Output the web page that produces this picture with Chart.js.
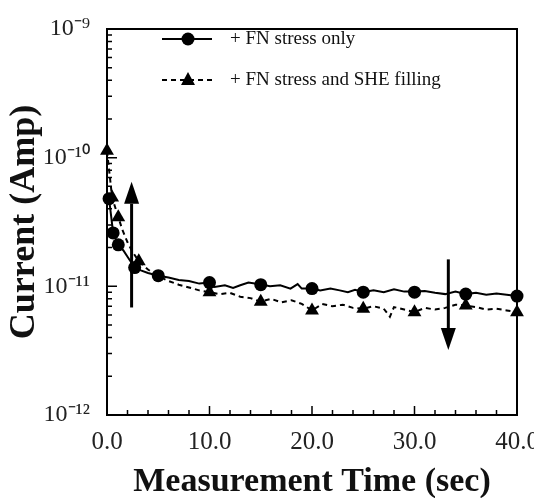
<!DOCTYPE html>
<html>
<head>
<meta charset="utf-8">
<script src="https://cdn.jsdelivr.net/npm/chart.js@4/dist/chart.umd.min.js"></script>
<style>
  html, body { margin: 0; padding: 0; background: #fff; overflow: hidden; }
  #wrap { width: 534px; height: 498px; overflow: hidden; }
</style>
</head>
<body>
<div id="wrap"><canvas id="chart" width="560" height="498"></canvas></div>
<script>
// line through the noisy "FN stress only" trace
const solidX = [0, 0.2, 0.6, 1.1, 1.6, 2.0, 2.7, 3.3, 4.0, 5, 6, 7, 8, 9, 10, 10.5, 11.5, 12.3, 13, 13.8, 14.9,
    15.9, 16.9, 17.9, 18.6, 19, 20, 20.8, 21.8, 22.7, 23.5, 24.2, 25, 26, 27, 28, 29, 30, 31, 32, 33, 34, 35, 36, 37, 38, 39, 40];
const solidY = [4.8e-11, 4.8e-11, 2.6e-11, 2.1e-11, 1.9e-11, 1.7e-11, 1.4e-11, 1.33e-11, 1.27e-11, 1.21e-11, 1.17e-11,
    1.12e-11, 1.1e-11, 1.05e-11, 1.07e-11, 9.9e-12, 1.02e-11, 9.7e-12, 1.02e-11, 1.07e-11, 1.04e-11, 1.0e-11, 1.02e-11,
    9.6e-12, 1.04e-11, 9.6e-12, 9.6e-12, 9.3e-12, 9.6e-12, 9.3e-12, 9.0e-12, 9.4e-12, 9.0e-12, 9.3e-12, 9.0e-12, 9.5e-12,
    9.1e-12, 9.1e-12, 9.2e-12, 8.9e-12, 8.7e-12, 9.1e-12, 8.7e-12, 8.9e-12, 8.6e-12, 8.8e-12, 8.6e-12, 8.4e-12];
const circleX = [0.2, 0.6, 1.1, 2.7, 5, 10, 15, 20, 25, 30, 35, 40];
const circleY = [4.8e-11, 2.6e-11, 2.1e-11, 1.4e-11, 1.21e-11, 1.07e-11, 1.03e-11, 9.6e-12, 9.0e-12, 9.0e-12, 8.7e-12, 8.4e-12];

// "FN stress and SHE filling" trace
const dashX = [0, 0.5, 1.1, 1.5, 2.0, 2.5, 3.1, 4, 5, 6, 7, 8, 9, 10, 11, 12, 13, 14, 15, 16, 17, 18, 19, 20,
    21, 22, 23, 24, 25, 26, 27, 27.6, 28, 29, 30, 31, 32, 33, 34, 35, 36, 37, 38, 39, 40];
const dashY = [1.13e-10, 4.9e-11, 3.45e-11, 2.75e-11, 2.2e-11, 1.85e-11, 1.57e-11, 1.35e-11, 1.2e-11, 1.1e-11, 1.03e-11,
    9.8e-12, 9.3e-12, 9.0e-12, 8.7e-12, 8.9e-12, 8.3e-12, 8.1e-12, 7.6e-12, 8.0e-12, 7.5e-12, 7.8e-12, 7.3e-12, 6.5e-12,
    7.3e-12, 7.0e-12, 7.2e-12, 6.8e-12, 6.7e-12, 7.0e-12, 6.7e-12, 5.8e-12, 6.9e-12, 6.6e-12, 6.3e-12, 6.8e-12, 6.6e-12,
    6.8e-12, 7.2e-12, 7.1e-12, 6.9e-12, 6.6e-12, 6.7e-12, 6.5e-12, 6.3e-12];
const triX = [0, 0.5, 1.1, 3.1, 10, 15, 20, 25, 30, 35, 40];
const triY = [1.13e-10, 4.9e-11, 3.45e-11, 1.57e-11, 9.0e-12, 7.6e-12, 6.5e-12, 6.7e-12, 6.3e-12, 7.1e-12, 6.3e-12];

// arrows: x position, tail value, head value
const arrowX = [2.4, 33.3];
const arrowFrom = [6.85e-12, 1.62e-11];
const arrowTo = [6.5e-11, 3.2e-12];

const seriesLabels = ['+ FN stress only', '+ FN stress and SHE filling'];
const xTicks = [0, 10, 20, 30, 40];

const SERIF = '"Liberation Serif", "Times New Roman", serif';
const SUP = { '-': '\u207B', '0': '\u2070', '1': '\u00B9', '2': '\u00B2', '9': '\u2079' };

function pts(xs, ys) {
    return xs.map((x, i) => ({ x: x, y: ys[i] }));
}

function superscript(n) {
    return String(n).split('').map(c => SUP[c] || c).join('');
}

const frameAndExtras = {
    id: 'frameAndExtras',
    afterDatasetsDraw(chart) {
        const ctx = chart.ctx;
        const a = chart.chartArea;
        const xs = chart.scales.x;
        const ys = chart.scales.y;
        ctx.save();
        ctx.strokeStyle = '#000';
        ctx.fillStyle = '#000';

        // inward ticks on y axis
        ctx.lineWidth = 1.5;
        ctx.beginPath();
        for (let e = -12; e <= -9; e++) {
            const yp = ys.getPixelForValue(Math.pow(10, e));
            ctx.moveTo(a.left, yp); ctx.lineTo(a.left + 10, yp);
            if (e < -9) {
                for (let m = 2; m <= 9; m++) {
                    const ym = ys.getPixelForValue(m * Math.pow(10, e));
                    ctx.moveTo(a.left, ym); ctx.lineTo(a.left + 5, ym);
                }
            }
        }
        // inward ticks on x axis
        for (let t = 0; t <= 40; t += 2) {
            const xp = xs.getPixelForValue(t);
            const len = t % 10 === 0 ? 9 : 5;
            ctx.moveTo(xp, a.bottom); ctx.lineTo(xp, a.bottom - len);
        }
        ctx.stroke();

        // frame
        ctx.lineWidth = 2;
        ctx.strokeRect(a.left, a.top, a.right - a.left, a.bottom - a.top);

        // arrows
        ctx.lineWidth = 3;
        arrowX.forEach((x, i) => {
            const xp = xs.getPixelForValue(x);
            const y0 = ys.getPixelForValue(arrowFrom[i]);
            const y1 = ys.getPixelForValue(arrowTo[i]);
            const dir = y1 < y0 ? 1 : -1;
            const head = 22;
            ctx.beginPath();
            ctx.moveTo(xp, y0);
            ctx.lineTo(xp, y1 + dir * head);
            ctx.stroke();
            ctx.beginPath();
            ctx.moveTo(xp, y1);
            ctx.lineTo(xp - 7.5, y1 + dir * head);
            ctx.lineTo(xp + 7.5, y1 + dir * head);
            ctx.closePath();
            ctx.fill();
        });

        // legend
        const rows = [
            { y: 39, dash: [], marker: 'circle', text: chart.data.datasets[0].label },
            { y: 80, dash: [5, 4], marker: 'triangle', text: chart.data.datasets[2].label }
        ];
        rows.forEach(r => {
            ctx.lineWidth = 2;
            ctx.setLineDash(r.dash);
            ctx.beginPath();
            ctx.moveTo(162, r.y); ctx.lineTo(212, r.y);
            ctx.stroke();
            ctx.setLineDash([]);
            ctx.beginPath();
            if (r.marker === 'circle') {
                ctx.arc(188, r.y, 6.5, 0, Math.PI * 2);
            } else {
                ctx.moveTo(188, r.y - 8);
                ctx.lineTo(195, r.y + 5);
                ctx.lineTo(181, r.y + 5);
                ctx.closePath();
            }
            ctx.fill();
            ctx.font = '19px ' + SERIF;
            ctx.textBaseline = 'middle';
            ctx.textAlign = 'left';
            ctx.fillStyle = '#111';
            ctx.fillText(r.text, 230, r.y);
            ctx.fillStyle = '#000';
        });
        ctx.restore();
    }
};

const ctx = document.getElementById('chart').getContext('2d');
new Chart(ctx, {
    type: 'line',
    data: {
        datasets: [
            {
                label: seriesLabels[0],
                data: pts(solidX, solidY),
                borderColor: '#000',
                borderWidth: 2,
                pointRadius: 0,
                tension: 0
            },
            {
                label: seriesLabels[0] + ' markers',
                data: pts(circleX, circleY),
                showLine: false,
                pointStyle: 'circle',
                pointRadius: 6.5,
                backgroundColor: '#000',
                borderColor: '#000',
                borderWidth: 0,
                clip: false
            },
            {
                label: seriesLabels[1],
                data: pts(dashX, dashY),
                borderColor: '#000',
                borderWidth: 2,
                borderDash: [5, 4],
                pointRadius: 0,
                tension: 0
            },
            {
                label: seriesLabels[1] + ' markers',
                data: pts(triX, triY),
                showLine: false,
                pointStyle: 'triangle',
                pointRadius: 8,
                backgroundColor: '#000',
                borderColor: '#000',
                borderWidth: 0,
                clip: false
            }
        ]
    },
    options: {
        responsive: false,
        animation: false,
        events: [],
        layout: { padding: { top: 13, right: 43, bottom: 0, left: 0 } },
        plugins: {
            legend: { display: false },
            tooltip: { enabled: false }
        },
        scales: {
            x: {
                type: 'linear',
                min: 0,
                max: 40,
                afterFit: s => { s.height = 83; },
                afterBuildTicks: s => { s.ticks = xTicks.map(v => ({ value: v })); },
                grid: { display: false, drawTicks: false },
                border: { display: false },
                ticks: {
                    padding: 12,
                    color: '#222',
                    font: { family: SERIF, size: 25 },
                    maxRotation: 0,
                    callback: v => Number(v).toFixed(1)
                },
                title: {
                    display: true,
                    text: 'Measurement Time (sec)',
                    color: '#111',
                    font: { family: SERIF, size: 34, weight: 'bold' },
                    padding: { top: 0, bottom: -5 }
                }
            },
            y: {
                type: 'logarithmic',
                min: 1e-12,
                max: 1e-9,
                afterFit: s => { s.width = 107; },
                grid: { display: false, drawTicks: false },
                border: { display: false },
                ticks: {
                    autoSkip: false,
                    padding: 17,
                    color: '#222',
                    font: { family: SERIF, size: 24, lineHeight: 1 },
                    callback: function(v) {
                        const e = Math.round(Math.log10(v));
                        if (Math.abs(v / Math.pow(10, e) - 1) > 1e-6) return '';
                        return '10' + superscript(e);
                    }
                },
                title: {
                    display: true,
                    text: 'Current (Amp)',
                    color: '#111',
                    font: { family: SERIF, size: 36, weight: 'bold' },
                    padding: { top: 3, bottom: 0 }
                }
            }
        }
    },
    plugins: [frameAndExtras]
});
</script>
</body>
</html>
